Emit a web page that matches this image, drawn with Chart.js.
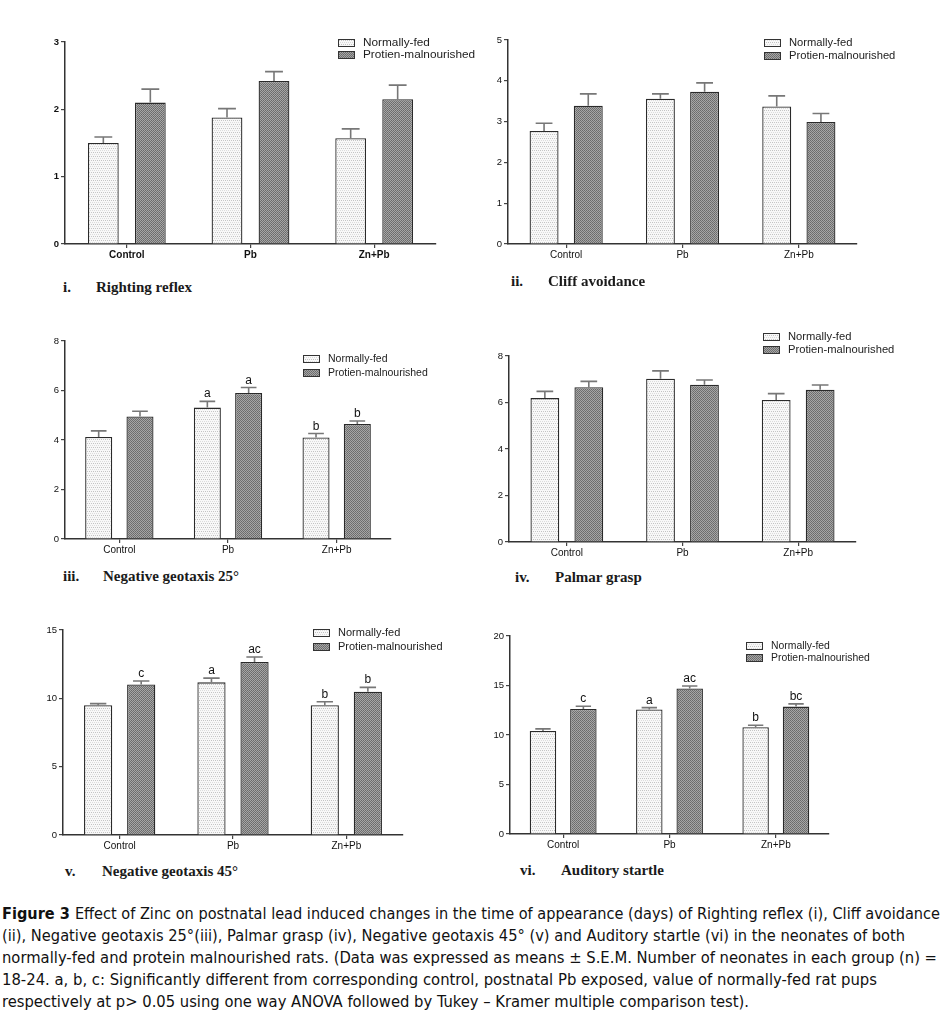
<!DOCTYPE html>
<html>
<head>
<meta charset="utf-8">
<script src="https://cdn.jsdelivr.net/npm/chart.js@4.4.1/dist/chart.umd.min.js"></script>
<style>
  body { margin:0; background:#fff; width:942px; height:1016px; position:relative; overflow:hidden; font-family:"Liberation Sans", Arial, sans-serif; }
  .panel { position:absolute; }
  .ttl { position:absolute; font:bold 15px "Liberation Serif", "Times New Roman", serif; color:#1a1a1a; white-space:nowrap; line-height:18px; }
  .cap { position:absolute; left:2px; white-space:nowrap; font:15.5px "Liberation Sans Narrow", "DejaVu Sans Condensed", sans-serif; color:#111; line-height:20px; transform-origin:0 0; }
</style>
</head>
<body>
<script>
// groups and series
const groups = ['Control', 'Pb', 'Zn+Pb'];
const seriesNames = ['Normally-fed', 'Protien-malnourished'];

// i. Righting reflex (mean, SEM)
const rightingNF = [1.50, 1.88, 1.57];
const rightingNFsem = [0.09, 0.13, 0.14];
const rightingPM = [2.10, 2.42, 2.15];
const rightingPMsem = [0.20, 0.14, 0.21];

// ii. Cliff avoidance
const cliffNF = [2.77, 3.56, 3.37];
const cliffNFsem = [0.19, 0.12, 0.26];
const cliffPM = [3.39, 3.73, 2.99];
const cliffPMsem = [0.29, 0.22, 0.21];

// iii. Negative geotaxis 25
const geo25NF = [4.12, 5.31, 4.10];
const geo25NFsem = [0.25, 0.25, 0.16];
const geo25PM = [4.95, 5.90, 4.65];
const geo25PMsem = [0.21, 0.22, 0.12];
const geo25NFmarks = ['', 'a', 'b'];
const geo25PMmarks = ['', 'a', 'b'];

// iv. Palmar grasp
const palmarNF = [6.19, 7.02, 6.11];
const palmarNFsem = [0.29, 0.34, 0.27];
const palmarPM = [6.66, 6.76, 6.55];
const palmarPMsem = [0.25, 0.21, 0.20];

// v. Negative geotaxis 45
const geo45NF = [9.49, 11.17, 9.49];
const geo45NFsem = [0.12, 0.31, 0.26];
const geo45PM = [11.02, 12.66, 10.49];
const geo45PMsem = [0.25, 0.36, 0.31];
const geo45NFmarks = ['', 'a', 'b'];
const geo45PMmarks = ['c', 'ac', 'b'];

// vi. Auditory startle
const startleNF = [10.41, 12.57, 10.79];
const startleNFsem = [0.21, 0.20, 0.20];
const startlePM = [12.63, 14.69, 12.87];
const startlePMsem = [0.27, 0.26, 0.27];
const startleNFmarks = ['', 'a', 'b'];
const startlePMmarks = ['c', 'ac', 'bc'];

// y axis ticks
const yMax = [3, 5, 8, 8, 15, 20];
const yStep = [1, 1, 2, 2, 5, 5];

// fill patterns
function makePattern(w, h, bg, dots) {
  const c = document.createElement('canvas');
  c.width = w; c.height = h;
  const g = c.getContext('2d');
  g.fillStyle = bg; g.fillRect(0, 0, w, h);
  dots.forEach(d => { g.fillStyle = d[2]; g.fillRect(d[0], d[1], 1, 1); });
  return g.createPattern(c, 'repeat');
}
const patNF = makePattern(4, 4, '#f8f8f8', [[0,0,'#c2c2c2'],[2,0,'#c8c8c8'],[1,2,'#dcdcdc'],[3,2,'#dcdcdc']]);
const patPM = makePattern(2, 2, '#a6a6a6', [[0,0,'#6a6a6a'],[1,1,'#727272']]);

const panels = [
  { nf: rightingNF, nfSem: rightingNFsem, pm: rightingPM, pmSem: rightingPMsem, max: yMax[0], step: yStep[0],
    axisX: 65, top: 42, bottom: 244, right: 436, bold: true, legX: 338, legY: [43, 55], legFont: 11.8,
    num: 'i.', name: 'Righting reflex', numX: 63, nameX: 96, ttlY: 287 },
  { nf: cliffNF, nfSem: cliffNFsem, pm: cliffPM, pmSem: cliffPMsem, max: yMax[1], step: yStep[1],
    axisX: 508, top: 40, bottom: 244, right: 857, legX: 764, legY: [43, 56], legFont: 11.2,
    num: 'ii.', name: 'Cliff avoidance', numX: 511, nameX: 548, ttlY: 281 },
  { nf: geo25NF, nfSem: geo25NFsem, pm: geo25PM, pmSem: geo25PMsem, nfMarks: geo25NFmarks, pmMarks: geo25PMmarks,
    max: yMax[2], step: yStep[2], axisX: 65, top: 341, bottom: 539, right: 391, legX: 303, legY: [359, 373], legFont: 10.5,
    num: 'iii.', name: 'Negative geotaxis 25°', numX: 63, nameX: 103, ttlY: 576 },
  { nf: palmarNF, nfSem: palmarNFsem, pm: palmarPM, pmSem: palmarPMsem, max: yMax[3], step: yStep[3],
    axisX: 509, top: 356, bottom: 542, right: 856, legX: 763, legY: [337, 350], legFont: 11.2,
    num: 'iv.', name: 'Palmar grasp', numX: 515, nameX: 555, ttlY: 577 },
  { nf: geo45NF, nfSem: geo45NFsem, pm: geo45PM, pmSem: geo45PMsem, nfMarks: geo45NFmarks, pmMarks: geo45PMmarks,
    max: yMax[4], step: yStep[4], axisX: 63, top: 630, bottom: 835, right: 403, legX: 313, legY: [633, 647], legFont: 11,
    num: 'v.', name: 'Negative geotaxis 45°', numX: 65, nameX: 102, ttlY: 871 },
  { nf: startleNF, nfSem: startleNFsem, pm: startlePM, pmSem: startlePMsem, nfMarks: startleNFmarks, pmMarks: startlePMmarks,
    max: yMax[5], step: yStep[5], axisX: 510, top: 636, bottom: 834, right: 829, legX: 746, legY: [646, 658], legFont: 10.4,
    num: 'vi.', name: 'Auditory startle', numX: 520, nameX: 561, ttlY: 870 }
];

const errorBars = {
  id: 'errorBars',
  afterDatasetsDraw(chart) {
    const ctx = chart.ctx, y = chart.scales.y;
    chart.data.datasets.forEach((ds, di) => {
      chart.getDatasetMeta(di).data.forEach((bar, i) => {
        const top = y.getPixelForValue(ds.data[i] + ds.sem[i]);
        const half = bar.width * 0.29;
        ctx.save();
        ctx.strokeStyle = '#777';
        ctx.lineWidth = 1.6;
        ctx.beginPath();
        ctx.moveTo(bar.x, bar.y);
        ctx.lineTo(bar.x, top);
        ctx.moveTo(bar.x - half, top);
        ctx.lineTo(bar.x + half, top);
        ctx.stroke();
        if (ds.marks && ds.marks[i]) {
          ctx.fillStyle = '#111';
          ctx.font = '12px "Liberation Sans", Arial';
          ctx.textAlign = 'center';
          ctx.textBaseline = 'alphabetic';
          ctx.fillText(ds.marks[i], bar.x, top - 4);
        }
        ctx.restore();
      });
    });
  }
};

function legendPlugin(p, left, top) {
  return {
    id: 'panelLegend',
    afterDraw(chart) {
      const ctx = chart.ctx;
      [patNF, patPM].forEach((pat, k) => {
        const x = p.legX - left, cy = p.legY[k] - top;
        ctx.save();
        ctx.fillStyle = pat;
        ctx.fillRect(x, cy - 4, 17, 8);
        ctx.strokeStyle = '#333';
        ctx.lineWidth = 1;
        ctx.strokeRect(x + 0.5, cy - 3.5, 16, 7);
        ctx.fillStyle = '#222';
        ctx.font = p.legFont + 'px "Liberation Sans", Arial';
        ctx.textBaseline = 'middle';
        ctx.fillText(seriesNames[k], x + 25, cy);
        ctx.restore();
      });
    }
  };
}

const W = 32, H = 22;

panels.forEach(p => {
  const PT = Math.max(10, p.top - (p.legY[0] - 10));
  const PR = Math.max(6, p.legX + 150 - p.right);
  const left = p.axisX - W, top = p.top - PT;
  const div = document.createElement('div');
  div.className = 'panel';
  div.style.left = left + 'px';
  div.style.top = top + 'px';
  div.style.width = (p.right - p.axisX + W + PR) + 'px';
  div.style.height = (p.bottom - p.top + PT + H) + 'px';
  const cv = document.createElement('canvas');
  div.appendChild(cv);
  document.body.appendChild(div);

  const tickFont = { size: 9.5, weight: p.bold ? 'bold' : 'normal', family: '"Liberation Sans", Arial' };
  new Chart(cv, {
    type: 'bar',
    data: {
      labels: groups,
      datasets: [
        { label: seriesNames[0], data: p.nf, sem: p.nfSem, marks: p.nfMarks, backgroundColor: patNF, borderColor: '#2a2a2a', borderWidth: 1.3 },
        { label: seriesNames[1], data: p.pm, sem: p.pmSem, marks: p.pmMarks, backgroundColor: patPM, borderColor: '#2a2a2a', borderWidth: 1.3 }
      ]
    },
    options: {
      responsive: true,
      maintainAspectRatio: false,
      animation: false,
      layout: { padding: { top: PT, right: PR, left: 0, bottom: 0 } },
      plugins: { legend: { display: false }, tooltip: { enabled: false } },
      datasets: { bar: { categoryPercentage: 0.76, barPercentage: 0.655 } },
      scales: {
        x: {
          grid: { drawOnChartArea: false, offset: false, tickLength: 4, color: '#444', lineWidth: 1.2 },
          border: { color: '#333', width: 1.5 },
          ticks: { color: '#111', padding: 1, maxRotation: 0, font: { size: 10, weight: p.bold ? 'bold' : 'normal', family: '"Liberation Sans", Arial' } },
          afterFit(s) { s.height = H; }
        },
        y: {
          min: 0, max: p.max,
          grid: { drawOnChartArea: false, tickLength: 4, color: '#444', lineWidth: 1.2 },
          border: { color: '#333', width: 1.5 },
          ticks: { stepSize: p.step, color: '#111', padding: 2, font: tickFont },
          afterFit(s) { s.width = W; }
        }
      }
    },
    plugins: [errorBars, legendPlugin(p, left, top)]
  });

  [[p.num, p.numX], [p.name, p.nameX]].forEach(t => {
    const d = document.createElement('div');
    d.className = 'ttl';
    d.textContent = t[0];
    d.style.left = t[1] + 'px';
    d.style.top = (p.ttlY - 9) + 'px';
    document.body.appendChild(d);
  });
});

// caption
const capLines = [
  'Effect of Zinc on postnatal lead induced changes in the time of appearance (days) of Righting reflex (i), Cliff avoidance',
  '(ii), Negative geotaxis 25°(iii), Palmar grasp (iv), Negative geotaxis 45° (v) and Auditory startle (vi) in the neonates of both',
  'normally-fed and protein malnourished rats. (Data was expressed as means ± S.E.M. Number of neonates in each group (n) =',
  '18-24. a, b, c: Significantly different from corresponding control, postnatal Pb exposed, value of normally-fed rat pups',
  'respectively at p> 0.05 using one way ANOVA followed by Tukey – Kramer multiple comparison test).'
];
const capWidths = [938, 903, 935, 875, 747];
const capEls = capLines.map((txt, i) => {
  const d = document.createElement('div');
  d.className = 'cap';
  d.style.top = (904 + i * 22) + 'px';
  if (i === 0) {
    const b = document.createElement('b');
    b.textContent = 'Figure 3 ';
    d.appendChild(b);
  }
  d.appendChild(document.createTextNode(txt));
  document.body.appendChild(d);
  return d;
});
function fitCaption() {
  capEls.forEach((d, i) => {
    d.style.transform = 'none';
    const w = d.getBoundingClientRect().width;
    d.style.transform = 'scaleX(' + (capWidths[i] / w) + ')';
  });
}
fitCaption();
if (document.fonts) document.fonts.ready.then(fitCaption);
</script>
</body>
</html>
